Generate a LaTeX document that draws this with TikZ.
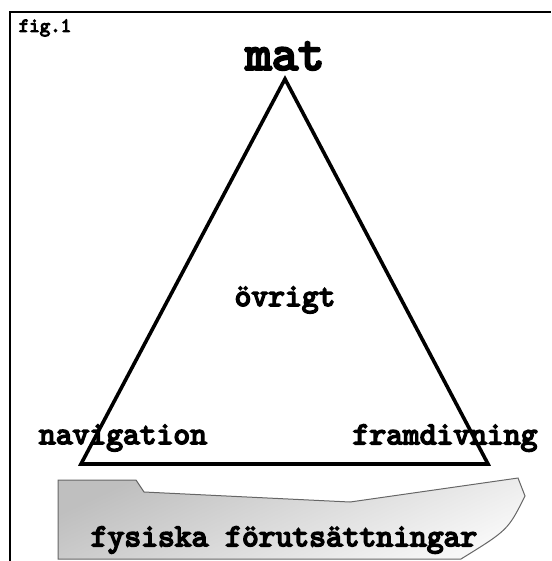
\documentclass[tikz,border=0pt]{standalone}
\usepackage{fontspec}
\newfontfamily\typew{lmmono10-regular.otf}[FakeBold=5]

\begin{document}
\begin{tikzpicture}[x=1pt,y=-1pt,label/.style={font=\typew\fontsize{32}{34}\selectfont,inner sep=0pt},edge/.style={line width=3.6pt,line join=miter,draw=black},ground/.style={draw=black!60,line width=1pt,top color=black!25,bottom color=black!3,shading angle=25}]
\useasboundingbox (0,0) rectangle (551,561);
\draw[line width=2pt] (10,561) -- (10,12) -- (551,12);
\node[font=\typew\fontsize{20}{22}\selectfont,inner sep=0pt] (fig) at (45,28) {fig.1};
% triangle
\coordinate (top) at (285,79);
\coordinate (left) at (81,464);
\coordinate (right) at (488,464);
\draw[edge] (top) -- (left) -- (right) -- cycle;
% ground
\draw[ground] (58,480) -- (136,480) -- (144,492) -- (350,502) -- (518,478) -- (525,496) .. controls (508,530) .. (461,559) -- (58,559) -- cycle;
\node[label,font=\typew\fontsize{50}{52}\selectfont] (mat) at (285,56) {mat};
\node[label] (ovrigt) at (285,300) {övrigt};
\node[label] (nav) at (123,438) {navigation};
\node[label] (fram) at (445,438) {framdivning};
\node[label] (fys) at (284,540) {fysiska förutsättningar};
\end{tikzpicture}
\end{document}
